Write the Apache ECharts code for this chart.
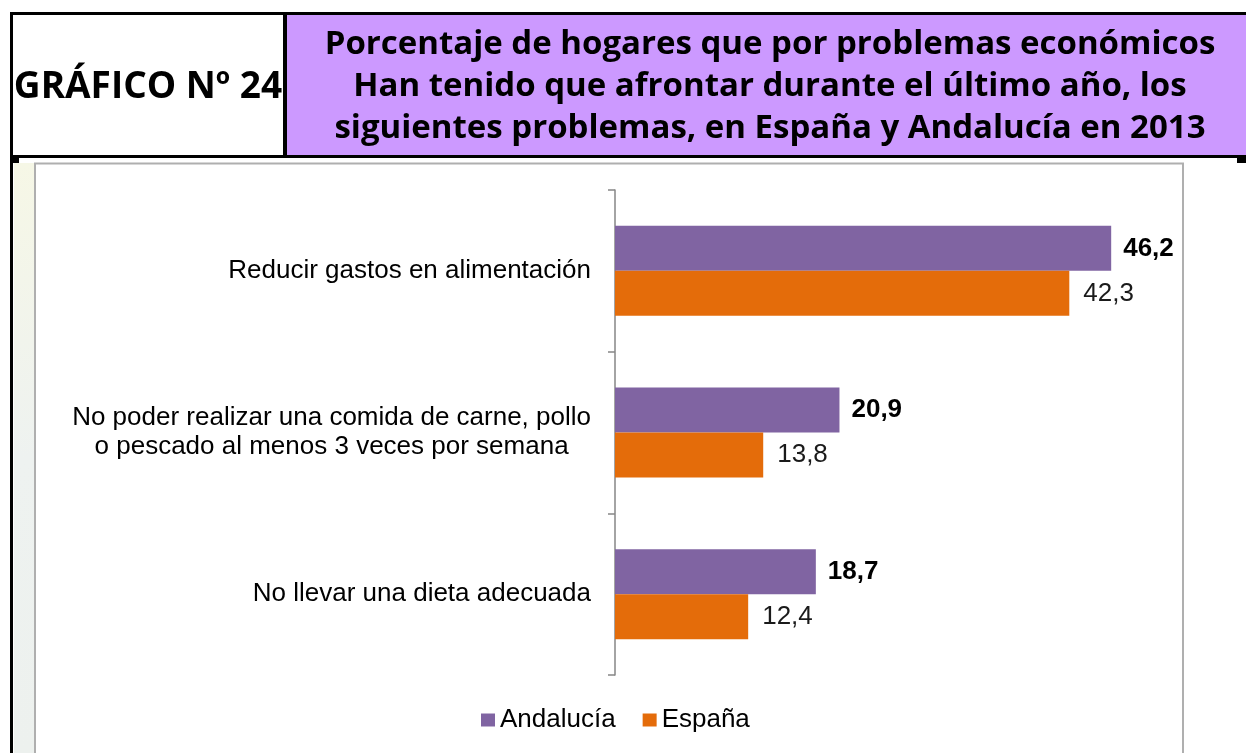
<!DOCTYPE html>
<html>
<head>
<meta charset="utf-8">
<script src="https://cdn.jsdelivr.net/npm/echarts@6/dist/echarts.min.js"></script>
<style>
html,body{margin:0;padding:0;background:#fff;}
#chart{width:1246px;height:753px;}
</style>
</head>
<body>
<div id="chart"></div>
<script>
// ---- data ----
const categories = [
  'Reducir gastos en alimentación',
  'No poder realizar una comida de carne, pollo\no pescado al menos 3 veces por semana',
  'No llevar una dieta adecuada'
];
const seriesNames = ['Andalucía', 'España'];
const andalucia = [46.2, 20.9, 18.7];
const espana = [42.3, 13.8, 12.4];
const headerLeft = 'GRÁFICO Nº 24';
const headerTitle = [
  'Porcentaje de hogares que por problemas económicos',
  'Han tenido que afrontar durante el último año, los',
  'siguientes problemas, en España y Andalucía en 2013'
];

const fmt = p => p.value.toFixed(1).replace('.', ',');
const FONT = '"Liberation Sans", Arial, sans-serif';
const HFONT = '"Open Sans", "Noto Sans", sans-serif';

const chart = echarts.init(document.getElementById('chart'), null, {renderer: 'canvas'});
chart.setOption({
  backgroundColor: '#ffffff',
  animation: false,
  graphic: [
    // faint stripe at left of chart area
    {type: 'rect', z: -10, silent: true, shape: {x: 14, y: 163, width: 21, height: 590},
     style: {fill: new echarts.graphic.LinearGradient(0, 0, 0, 1, [
       {offset: 0, color: '#F6F7E6'}, {offset: 0.5, color: '#EEF2F0'}, {offset: 1, color: '#EDF1EE'}])}},
    // header cells
    {type: 'rect', z: -5, silent: true, shape: {x: 13, y: 14, width: 272, height: 142}, style: {fill: '#ffffff'}},
    {type: 'rect', z: -5, silent: true, shape: {x: 286, y: 14, width: 962, height: 142}, style: {fill: '#CC99FF'}},
    // header borders
    {type: 'rect', z: -4, silent: true, shape: {x: 10, y: 12, width: 1240, height: 3}, style: {fill: '#000'}},
    {type: 'rect', z: -4, silent: true, shape: {x: 10, y: 155, width: 1240, height: 3}, style: {fill: '#000'}},
    {type: 'rect', z: -4, silent: true, shape: {x: 283, y: 12, width: 4, height: 146}, style: {fill: '#000'}},
    {type: 'rect', z: -4, silent: true, shape: {x: 10, y: 12, width: 3, height: 741}, style: {fill: '#000'}},
    {type: 'rect', z: -4, silent: true, shape: {x: 13, y: 157, width: 6, height: 6}, style: {fill: '#000'}},
    {type: 'rect', z: -4, silent: true, shape: {x: 1237, y: 157, width: 9, height: 6}, style: {fill: '#000'}},
    // chart frame
    {type: 'rect', z: -3, silent: true, shape: {x: 35, y: 163.5, width: 1148, height: 600},
     style: {fill: '#ffffff', stroke: '#AFAFAF', lineWidth: 2}},
    // header texts
    {type: 'text', z: 10, silent: true, x: 148, y: 87,
     style: {text: headerLeft, font: 'bold 37px ' + HFONT, fill: '#000', align: 'center', verticalAlign: 'middle'}},
    {type: 'text', z: 10, silent: true, x: 770, y: 87,
     style: {text: headerTitle.join('\n'), font: 'bold 33px ' + HFONT, lineHeight: 42, fill: '#000',
             align: 'center', verticalAlign: 'middle'}}
  ],
  legend: {
    data: seriesNames,
    left: 476,
    top: 702,
    icon: 'rect',
    itemWidth: 14,
    itemHeight: 13,
    itemGap: 27,
    textStyle: {fontFamily: FONT, fontSize: 26, color: '#000'}
  },
  grid: {left: 615, top: 190, width: 537, height: 485, containLabel: false},
  xAxis: {
    type: 'value', min: 0, max: 50, show: false
  },
  yAxis: {
    type: 'category',
    data: categories,
    inverse: true,
    axisLine: {show: true, lineStyle: {color: '#868686', width: 1.5}},
    axisTick: {show: true, length: 7, lineStyle: {color: '#868686', width: 1.5}},
    splitLine: {show: false},
    axisLabel: {
      margin: 24,
      fontFamily: FONT,
      fontSize: 26,
      color: '#000',
      lineHeight: 29,
      formatter: v => v.indexOf('\n') >= 0 ? v.split('\n').map(s => '{c|' + s + '}').join('\n') : v,
      rich: {c: {fontFamily: FONT, fontSize: 26, color: '#000', align: 'center', lineHeight: 29}}
    }
  },
  series: [
    {
      name: seriesNames[0], type: 'bar', data: andalucia, barWidth: 45, barGap: '0%',
      itemStyle: {color: '#8064A2'},
      label: {show: true, position: 'right', distance: 12, formatter: fmt,
              fontFamily: FONT, fontSize: 26, fontWeight: 'bold', color: '#000'}
    },
    {
      name: seriesNames[1], type: 'bar', data: espana, barWidth: 45, barGap: '0%',
      itemStyle: {color: '#E46C0A'},
      label: {show: true, position: 'right', distance: 14, formatter: fmt,
              fontFamily: FONT, fontSize: 26, color: '#1a1a1a'}
    }
  ]
});
</script>
</body>
</html>
